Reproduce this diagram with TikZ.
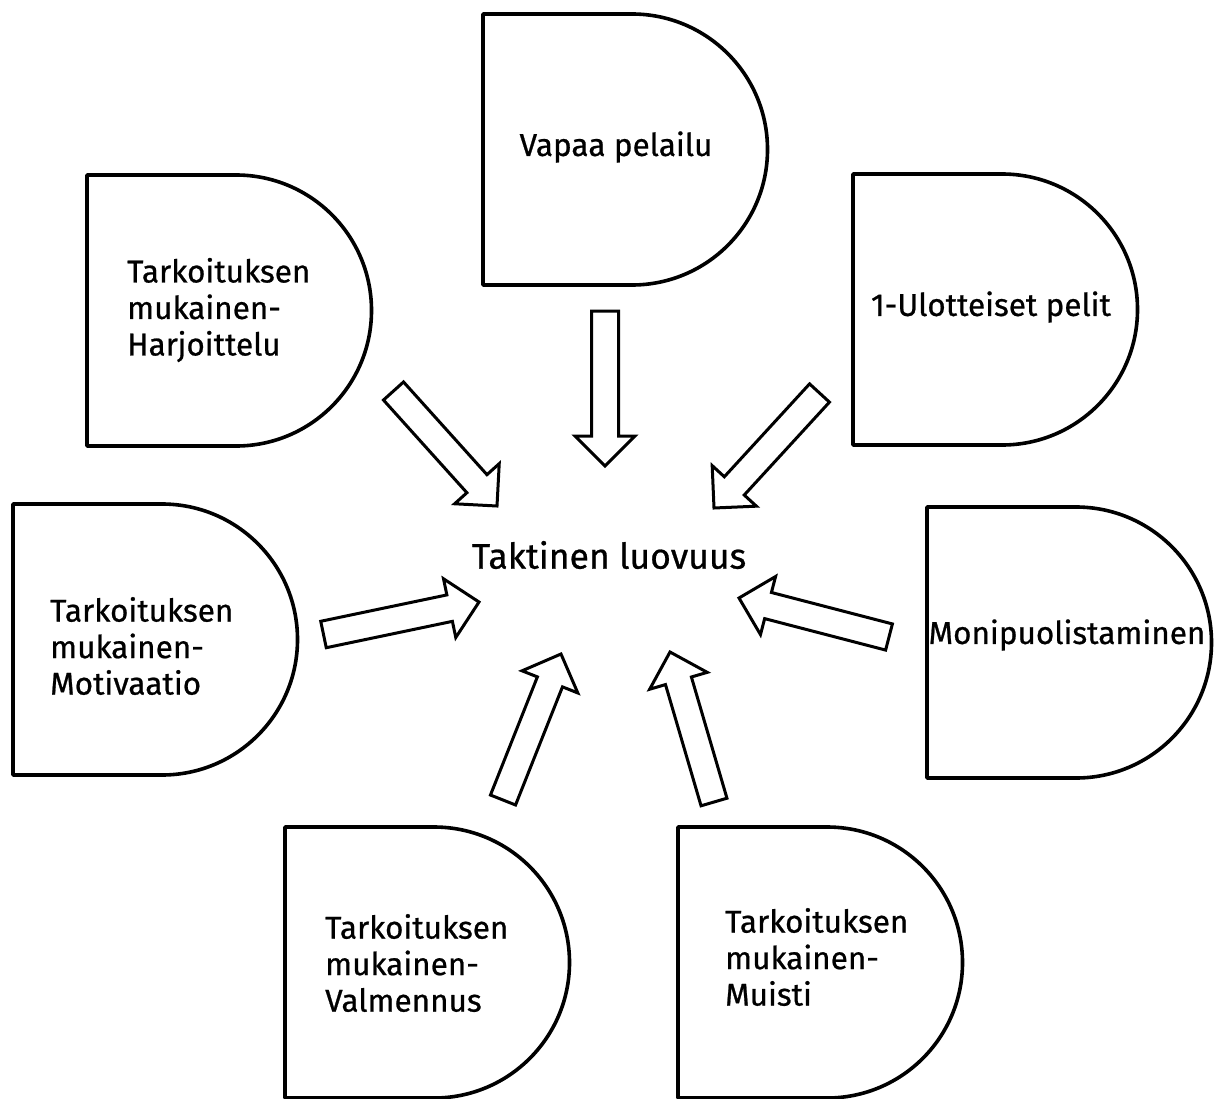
\documentclass[tikz,border=0pt]{standalone}
\usepackage{fontspec}
\setmainfont{Fira Sans}
\newfontfamily\lblfont{Fira Sans}[FakeBold=0.7]
\usetikzlibrary{calc}
\tikzset{
  dshape/.style={draw=black, line width=3.6pt, fill=white, line join=round},
  barrow/.style={draw=black, line width=3pt, fill=white, line join=miter},
  lbl/.style={font=\lblfont\fontsize{31.5}{36.5}\selectfont, align=left, inner sep=0pt, text=black},
  ctr/.style={font=\lblfont\fontsize{35.5}{40}\selectfont, inner sep=0pt, text=black},
}
\newcommand\dshape[3]{% name, left, top
  \coordinate (#1) at (#2,#3);
  \draw[dshape] (#1) -- ++(149,0) arc[start angle=-90,end angle=90,radius=135.5] -- ++(-149,0) -- cycle;
}
\newcommand\blockarrow[2]{%
  \coordinate (hb) at ($(#2)!30pt!(#1)$);
  \draw[barrow] ($(#1)!13.5pt!90:(#2)$) -- ($(hb)!13.5pt!90:(#2)$) -- ($(hb)!30pt!90:(#2)$) -- (#2)
     -- ($(hb)!30pt!-90:(#2)$) -- ($(hb)!13.5pt!-90:(#2)$) -- ($(#1)!13.5pt!-90:(#2)$) -- cycle;
}
\begin{document}
\begin{tikzpicture}[x=1pt,y=-1pt]
\useasboundingbox[fill=white] (0,0) rectangle (1214,1099);
% shapes
\dshape{s1}{483}{14}
\dshape{s2}{87}{175}
\dshape{s3}{853}{174}
\dshape{s4}{13}{504}
\dshape{s5}{927}{507}
\dshape{s6}{285}{827}
\dshape{s7}{678}{827}
% labels
\node[lbl] (t1) at (616,147) {Vapaa pelailu};
\node[lbl, anchor=west] (t2) at (127,310) {Tarkoituksen\\mukainen-\\Harjoittelu};
\node[lbl] (t3) at (991,307) {1-Ulotteiset pelit};
\node[lbl, anchor=west] (t4) at (50,646) {Tarkoituksen\\mukainen-\\Motivaatio};
\node[lbl] (t5) at (1067,635) {Monipuolistaminen};
\node[lbl, anchor=west] (t6) at (325,963) {Tarkoituksen\\mukainen-\\Valmennus};
\node[lbl, anchor=west] (t7) at (725,957) {Tarkoituksen\\mukainen-\\Muisti};
\node[ctr] (c) at (609,555) {Taktinen luovuus};
% arrow ends
\coordinate (a1t) at (605,311);   \coordinate (a1h) at (605,466);
\coordinate (a2t) at (393.5,391); \coordinate (a2h) at (497,506);
\coordinate (a3t) at (819.5,393); \coordinate (a3h) at (714,508);
\coordinate (a4t) at (323.5,634.5); \coordinate (a4h) at (479,602);
\coordinate (a5t) at (889,637);   \coordinate (a5h) at (739,598);
\coordinate (a6t) at (503,800);   \coordinate (a6h) at (561,654);
\coordinate (a7t) at (714,802);   \coordinate (a7h) at (670,652);
\blockarrow{a1t}{a1h}
\blockarrow{a2t}{a2h}
\blockarrow{a3t}{a3h}
\blockarrow{a4t}{a4h}
\blockarrow{a5t}{a5h}
\blockarrow{a6t}{a6h}
\blockarrow{a7t}{a7h}
\end{tikzpicture}
\end{document}
